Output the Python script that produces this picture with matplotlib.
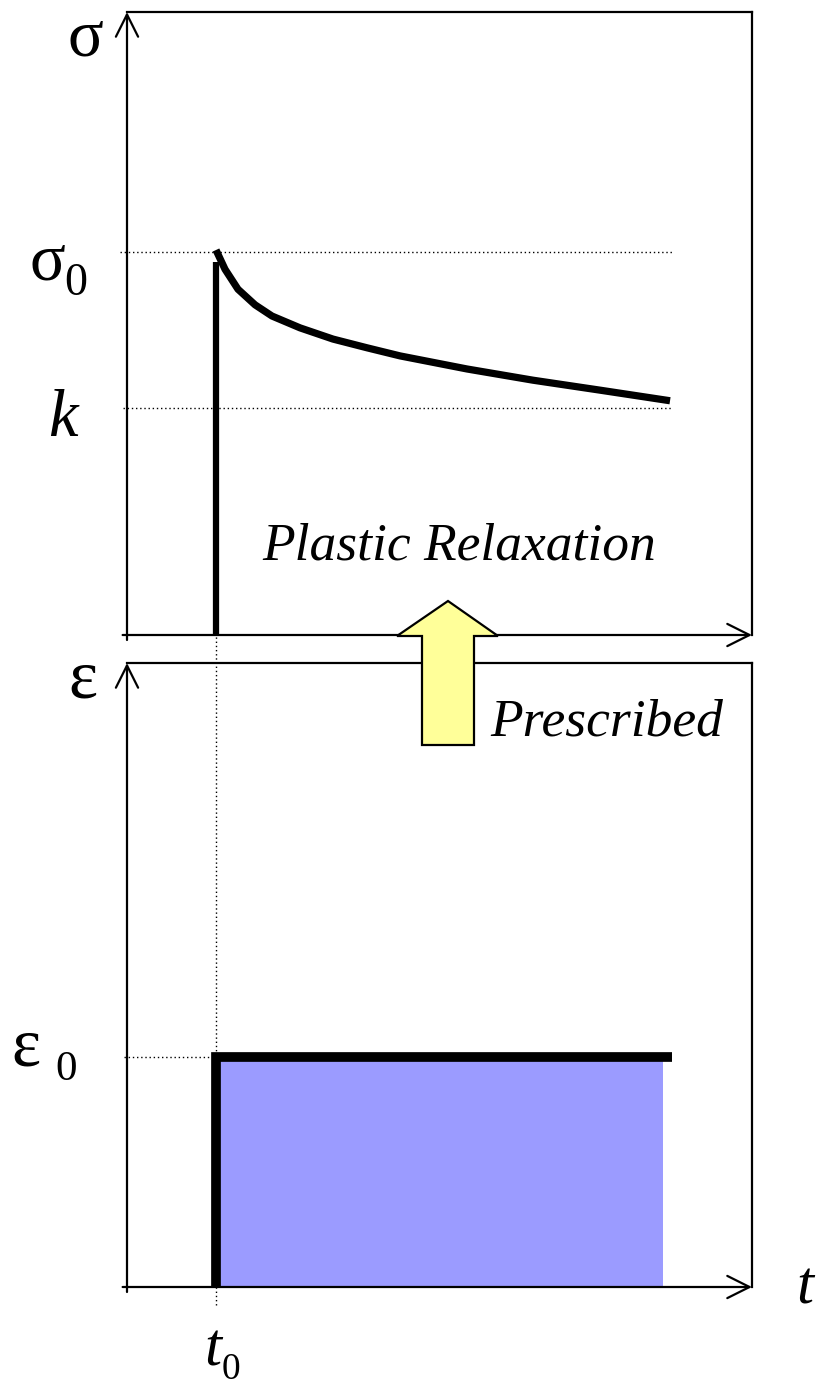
import matplotlib
matplotlib.use("Agg")
import matplotlib.pyplot as plt
from matplotlib.patches import Polygon

# Data
t0 = 1.0            # load time
t_end = 6.1         # end of the drawn curves
fill_end = 6.0      # end of the shaded strain block
sigma0 = 0.615      # initial stress
k_level = 0.364     # yield level k
step_top = 0.599    # top of the vertical stress jump
eps0 = 0.369        # prescribed strain

relax_t = [0.997, 1.098, 1.243, 1.434, 1.624, 1.938, 2.307, 2.688,
           3.058, 3.808, 4.547, 5.298, 6.082]
relax_sigma = [0.618, 0.587, 0.555, 0.530, 0.512, 0.493, 0.475, 0.461,
               0.448, 0.427, 0.409, 0.393, 0.376]

W, H = 817, 1388
serif = "Liberation Serif"

fig = plt.figure(figsize=(W / 100, H / 100), dpi=100)


def px(x, y):
    # image pixel -> figure fraction
    return x / W, 1 - y / H


def make_axes(top, bottom):
    ax = fig.add_axes([127 / W, (H - bottom) / H, 625 / W, (bottom - top) / H])
    ax.set_xlim(0, 7)
    ax.set_ylim(0, 1)
    ax.set_xticks([])
    ax.set_yticks([])
    for s in ax.spines.values():
        s.set_linewidth(1.6)
    ax.spines["left"].set_visible(False)
    ax.spines["bottom"].set_visible(False)
    arrow = dict(arrowstyle="->,head_length=0.8,head_width=0.4", lw=1.6,
                 mutation_scale=20, shrinkA=0, shrinkB=0, color="black")
    ax.annotate("", xy=(0, 1), xytext=(0, -0.008), xycoords="axes fraction",
                arrowprops=arrow, annotation_clip=False)
    ax.annotate("", xy=(1, 0), xytext=(-0.007, 0), xycoords="axes fraction",
                arrowprops=arrow, annotation_clip=False)
    return ax


dots = dict(color="black", lw=1.0, linestyle=(0, (1, 2)), clip_on=False)

# top panel: stress
ax1 = make_axes(12, 635)
ax1.plot([-0.08, t_end], [sigma0, sigma0], **dots)
ax1.plot([-0.05, t_end], [k_level, k_level], **dots)
ax1.plot([t0, t0], [0, step_top], color="black", lw=4.5, solid_capstyle="butt")
ax1.plot(relax_t, relax_sigma, color="black", lw=5.2, solid_capstyle="butt",
         solid_joinstyle="round")

# bottom panel: strain
ax2 = make_axes(663, 1287)
ax2.plot([t0, t0], [-0.029, 1.045], **dots)
ax2.plot([-0.03, t0], [eps0, eps0], **dots)
ax2.fill_between([t0, fill_end], 0, eps0, color="#9b9bff", lw=0)
ax2.plot([t0, t0, t_end], [0, eps0, eps0], color="black", lw=7,
         solid_joinstyle="miter", solid_capstyle="butt")

# big yellow arrow between the panels
arrow_px = [(422, 745), (422, 636), (397, 636), (448, 601),
            (498, 636), (474, 636), (474, 745)]
fig.add_artist(Polygon([px(x, y) for x, y in arrow_px], closed=True,
                       transform=fig.transFigure, facecolor="#ffff99",
                       edgecolor="black", lw=1.6, zorder=10))


# labels: (centre x, baseline y) in image pixels
def label(x, y, s, size, style="normal", ha="center"):
    fx, fy = px(x, y)
    fig.text(fx, fy, s, fontsize=size, family=serif, style=style,
             ha=ha, va="baseline")


label(85, 55, "σ", 48)
label(47, 280, "σ", 48)
label(76, 295, "0", 33)
label(63, 436, "k", 48, "italic")
label(83, 697, "ε", 50)
label(26, 1065, "ε", 50)
label(66, 1080, "0", 31)
label(213, 1366, "t", 44, "italic")
label(231, 1379, "0", 27)
label(805, 1303, "t", 44, "italic")
label(459, 560, "Plastic Relaxation", 38.5, "italic")
label(607, 735, "Prescribed", 38.5, "italic")

fig.savefig("out.png", dpi=100)
